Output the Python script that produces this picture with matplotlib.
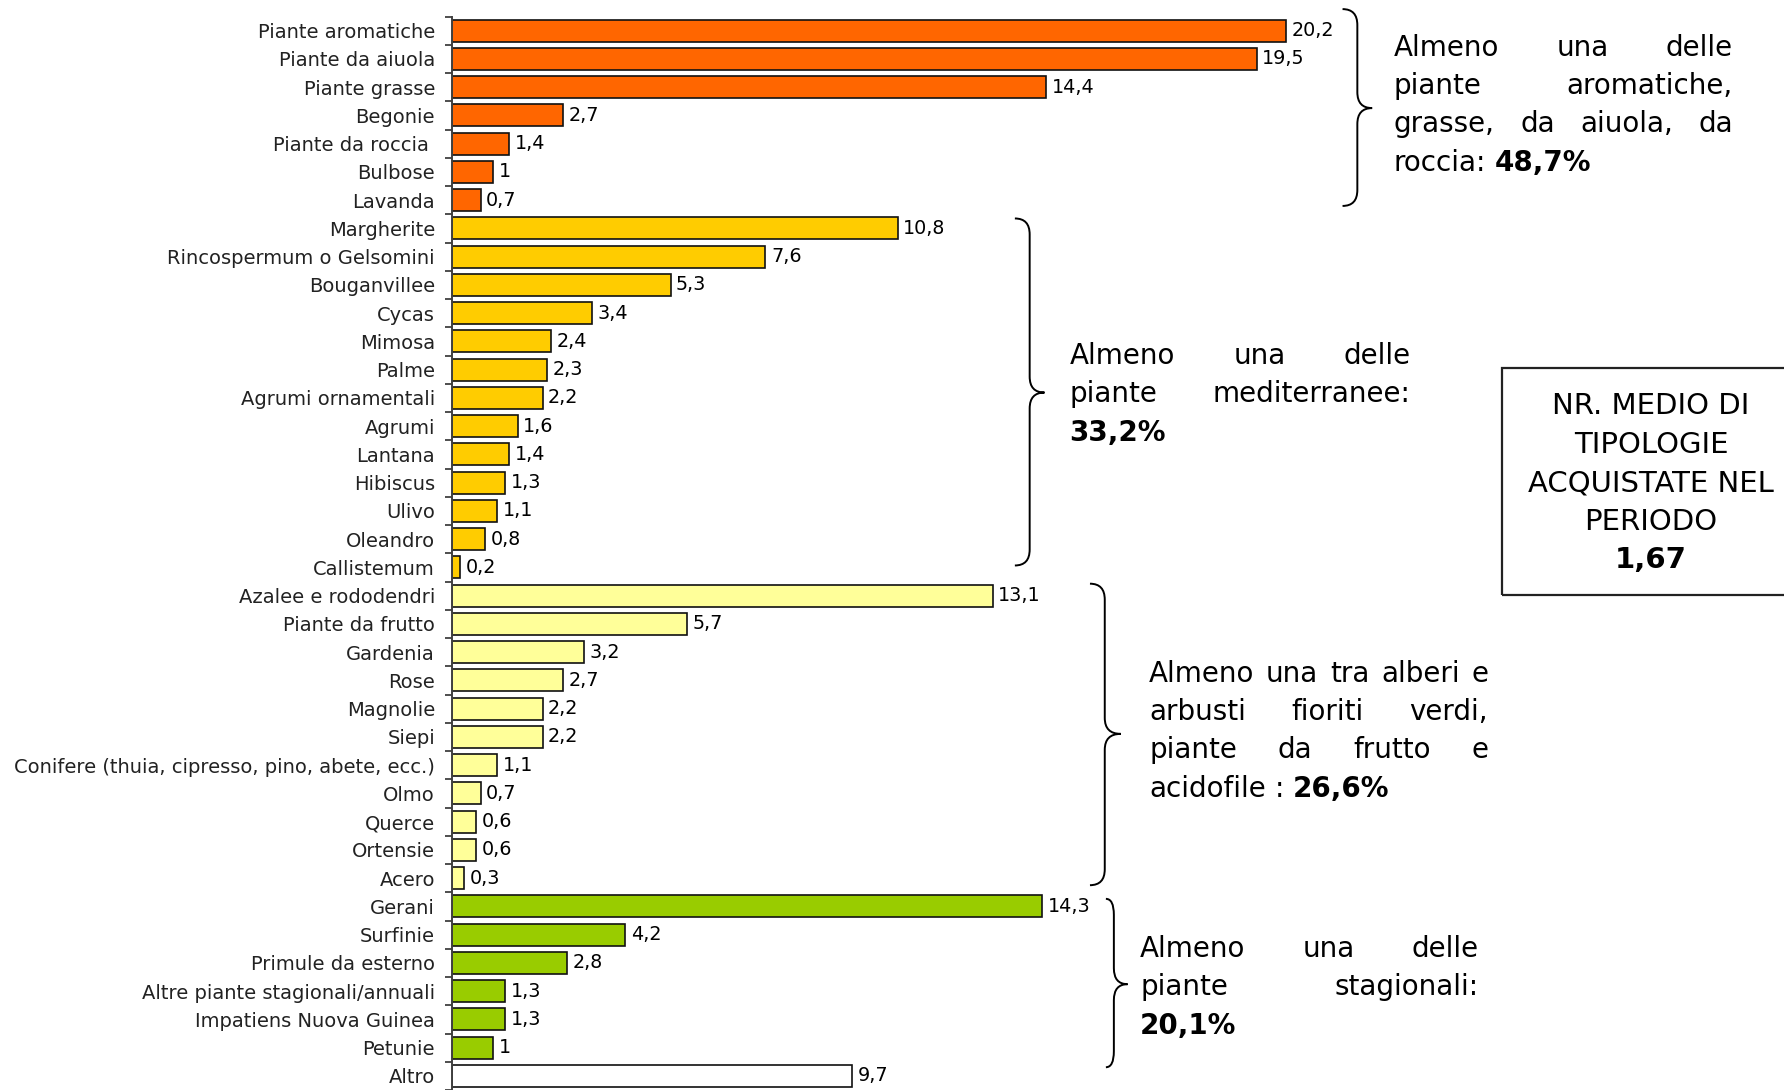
import numpy as np
import matplotlib
matplotlib.use('Agg')
import matplotlib.pyplot as plt
from matplotlib.path import Path
from matplotlib.patches import PathPatch, Rectangle

labels = ['Piante aromatiche', 'Piante da aiuola', 'Piante grasse', 'Begonie',
          'Piante da roccia ', 'Bulbose', 'Lavanda',
          'Margherite', 'Rincospermum o Gelsomini', 'Bouganvillee', 'Cycas', 'Mimosa',
          'Palme', 'Agrumi ornamentali', 'Agrumi', 'Lantana', 'Hibiscus', 'Ulivo',
          'Oleandro', 'Callistemum',
          'Azalee e rododendri', 'Piante da frutto', 'Gardenia', 'Rose', 'Magnolie',
          'Siepi', 'Conifere (thuia, cipresso, pino, abete, ecc.)', 'Olmo', 'Querce',
          'Ortensie', 'Acero',
          'Gerani', 'Surfinie', 'Primule da esterno', 'Altre piante stagionali/annuali',
          'Impatiens Nuova Guinea', 'Petunie',
          'Altro']
values = [20.2, 19.5, 14.4, 2.7, 1.4, 1.0, 0.7,
          10.8, 7.6, 5.3, 3.4, 2.4, 2.3, 2.2, 1.6, 1.4, 1.3, 1.1, 0.8, 0.2,
          13.1, 5.7, 3.2, 2.7, 2.2, 2.2, 1.1, 0.7, 0.6, 0.6, 0.3,
          14.3, 4.2, 2.8, 1.3, 1.3, 1.0,
          9.7]
group_sizes = [7, 13, 11, 6, 1]
group_colors = ['#FF6600', '#FFCC00', '#FFFF99', '#99CC00', '#FFFFFF']

note1 = ['Almeno una delle', 'piante aromatiche,', 'grasse, da aiuola, da', 'roccia: **48,7%**']
note2 = ['Almeno una delle', 'piante mediterranee:', '**33,2%**']
note3 = ['Almeno una tra alberi e', 'arbusti fioriti verdi,', 'piante da frutto e',
         'acidofile : **26,6%**']
note4 = ['Almeno una delle', 'piante stagionali:', '**20,1%**']
box_lines = ['NR. MEDIO DI', 'TIPOLOGIE', 'ACQUISTATE NEL', 'PERIODO', '**1,67**']

plt.rcParams['font.family'] = ['DejaVu Sans']

# layout reference grid (reference picture measured at 1568 x 958)
W0, H0 = 1568.0, 958.0
FW, FH = 1784, 1090
NOTE_FS = 20
BOX_FS = 21


def fx(x):
    return x / W0


def fy(y):
    return 1 - y / H0


colors = np.repeat(group_colors, group_sizes)
ypos = np.arange(len(labels))

fig = plt.figure(figsize=(FW / 100, FH / 100), dpi=100)
ax = fig.add_axes([fx(397), 0.0, 1 - fx(397), fy(14.6)])

ax.barh(ypos, values, height=0.78, color=colors, edgecolor='#111111', linewidth=1.2)
for i, v in enumerate(values):
    ax.annotate(('%g' % v).replace('.', ','), (v, i), xytext=(4, 0),
                textcoords='offset points', va='center', ha='left', fontsize=13.8)

ax.set_ylim(len(labels) - 0.5, -0.5)
ax.set_xlim(0, (W0 - 397) / ((1130 - 397) / 20.2))
ax.set_yticks(ypos)
ax.set_yticklabels(labels, fontsize=14, color='#222222')
ax.set_yticks(np.arange(len(labels) + 1) - 0.5, minor=True)
ax.tick_params(axis='y', which='major', length=0, pad=12)
ax.tick_params(axis='y', which='minor', length=5, width=1.3, direction='out', color='#404040')
ax.set_xticks([])
for s in ['top', 'right', 'bottom']:
    ax.spines[s].set_visible(False)
ax.spines['left'].set_linewidth(1.4)
ax.spines['left'].set_color('#404040')
ax.set_facecolor('none')

renderer = fig.canvas.get_renderer()
space_px = 0.318 * NOTE_FS * 100 / 72


def put_line(line, x0, x1, y, justify, size=NOTE_FS):
    texts = []
    for w in line.split(' '):
        bold = w.startswith('**')
        t = fig.text(0, fy(y), w.strip('*'), fontsize=size, va='baseline', ha='left',
                     fontweight='bold' if bold else 'normal')
        texts.append(t)
    widths = [t.get_window_extent(renderer).width for t in texts]
    X0 = x0 * FW / W0
    X1 = x1 * FW / W0
    if justify and len(texts) > 1:
        gap = (X1 - X0 - sum(widths)) / (len(texts) - 1)
    else:
        gap = space_px
    pos = X0
    for t, w in zip(texts, widths):
        t.set_x(pos / FW)
        pos += w + gap


def note(lines, x0, x1, y_first, dy=33.7):
    for k, line in enumerate(lines):
        put_line(line, x0, x1, y_first + k * dy + 9, k < len(lines) - 1)


def brace(x0, y0, y1, xs, xt, ym, r=14):
    verts = [(x0, y0), (xs, y0), (xs, y0 + r),
             (xs, ym - r), (xs, ym), (xt, ym),
             (xs, ym), (xs, ym + r),
             (xs, y1 - r), (xs, y1), (x0, y1)]
    codes = [Path.MOVETO, Path.CURVE3, Path.CURVE3,
             Path.LINETO, Path.CURVE3, Path.CURVE3,
             Path.CURVE3, Path.CURVE3,
             Path.LINETO, Path.CURVE3, Path.CURVE3]
    verts = [(fx(a), fy(b)) for a, b in verts]
    fig.add_artist(PathPatch(Path(verts, codes), transform=fig.transFigure,
                             fill=False, lw=1.4, edgecolor='black'))


brace(1180, 8, 181, 1193, 1206, 95)
brace(892, 192, 497, 905, 918, 345)
brace(958, 513, 778, 971, 985, 645)
brace(972, 790, 938, 979, 991, 865)

note(note1, 1225, 1523, 40)
note(note2, 940, 1240, 311)
note(note3, 1010, 1308, 590)
note(note4, 1002, 1300, 832)

fig.add_artist(Rectangle((fx(1320), fy(523)), 1.05 - fx(1320), fy(323) - fy(523),
                         transform=fig.transFigure, fill=False, lw=1.6, edgecolor='#222222'))
for k, line in enumerate(box_lines):
    bold = line.startswith('**')
    fig.text(fx(1451), fy(355 + k * 33.8 + 9), line.strip('*'), fontsize=BOX_FS,
             ha='center', va='baseline', fontweight='bold' if bold else 'normal')

fig.savefig('out.png', dpi=100)
